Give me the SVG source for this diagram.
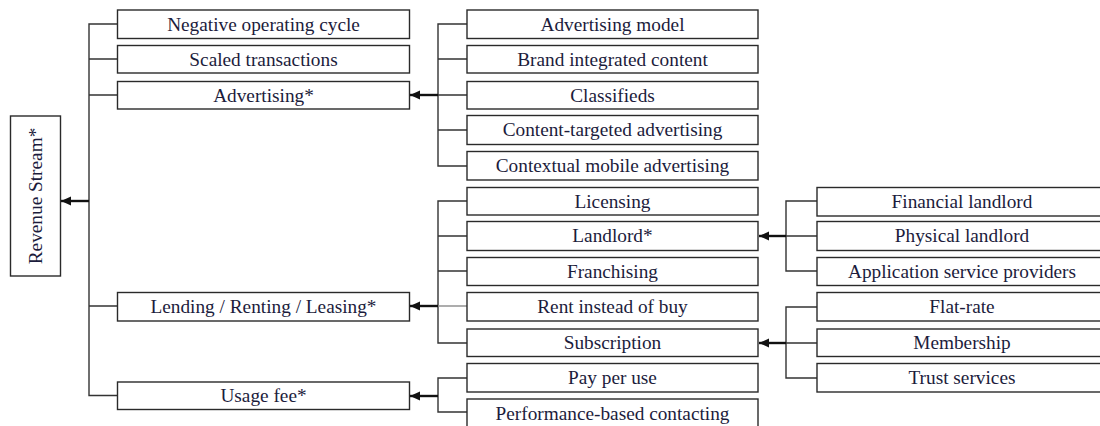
<svg xmlns="http://www.w3.org/2000/svg" width="1100" height="426" viewBox="0 0 1100 426">
  <style>
    .box { fill: #ffffff; stroke: #2a2a2a; stroke-width: 1.4; }
    .lbl { font-family: "Liberation Serif", "Times New Roman", serif; font-size: 19.3px; fill: #1c1c3c; text-anchor: middle; }
    .wire { fill: none; stroke: #333333; stroke-width: 1.4; }
    .arrow { fill: none; stroke: #111111; stroke-width: 2.4; marker-end: url(#head); }
  </style>
  <defs>
    <marker id="head" markerUnits="userSpaceOnUse" markerWidth="11" markerHeight="10" refX="10" refY="4.5" orient="auto">
      <path d="M0,0 L10,4.5 L0,9 Z" fill="#111111"/>
    </marker>
  </defs>
  <rect width="1100" height="426" fill="#ffffff"/>

  <!-- connectors -->
  <g id="connectors">
    <!-- root bracket -->
    <path class="wire" d="M117.5,24 H89 V395.5 H117.5 M89,59 H117.5 M89,95 H117.5 M89,306 H117.5"/>
    <path class="arrow" d="M89,201 H61"/>
    <!-- advertising bracket -->
    <path class="wire" d="M467,24 H438 V166 H467 M438,59 H467 M438,95 H467 M438,130 H467"/>
    <path class="arrow" d="M438,95 H410"/>
    <!-- lending bracket -->
    <path class="wire" d="M467,201 H438 V343 H467 M438,236 H467 M438,271 H467"/>
    <path class="wire" d="M438,306 H467" style="stroke:#8a8a8a"/>
    <path class="arrow" d="M438,306 H410"/>
    <!-- usage fee bracket -->
    <path class="wire" d="M467,378 H438 V412 H467"/>
    <path class="arrow" d="M438,396 H410"/>
    <!-- landlord bracket -->
    <path class="wire" d="M817,201 H786 V271 H817 M786,236 H817"/>
    <path class="arrow" d="M786,236 H759"/>
    <!-- subscription bracket -->
    <path class="wire" d="M817,307 H786 V378 H817 M786,343 H817"/>
    <path class="arrow" d="M786,343 H759"/>
  </g>

  <!-- root -->
  <g id="revenue-stream">
    <rect class="box" x="10.5" y="116" width="50" height="160"/>
    <text class="lbl" transform="translate(42,196) rotate(-90)" x="0" y="0">Revenue Stream*</text>
  </g>

  <!-- first level -->
  <g id="negative-operating-cycle">
    <rect class="box" x="117.5" y="10" width="292" height="28.5"/>
    <text class="lbl" x="263.5" y="30.7">Negative operating cycle</text>
  </g>
  <g id="scaled-transactions">
    <rect class="box" x="117.5" y="45.5" width="292" height="27.5"/>
    <text class="lbl" x="263.5" y="65.6">Scaled transactions</text>
  </g>
  <g id="advertising">
    <rect class="box" x="117.5" y="81.5" width="292" height="27.5"/>
    <text class="lbl" x="263.5" y="101.6">Advertising*</text>
  </g>
  <g id="lending">
    <rect class="box" x="117.5" y="292.5" width="292" height="28.5"/>
    <text class="lbl" x="263.5" y="313.2">Lending / Renting / Leasing*</text>
  </g>
  <g id="usage-fee">
    <rect class="box" x="117.5" y="382" width="292" height="27.5"/>
    <text class="lbl" x="263.5" y="402.1">Usage fee*</text>
  </g>

  <!-- second level -->
  <g id="advertising-model">
    <rect class="box" x="467" y="10" width="291" height="28.5"/>
    <text class="lbl" x="612.5" y="30.7">Advertising model</text>
  </g>
  <g id="brand-integrated-content">
    <rect class="box" x="467" y="45.5" width="291" height="27.5"/>
    <text class="lbl" x="612.5" y="65.6">Brand integrated content</text>
  </g>
  <g id="classifieds">
    <rect class="box" x="467" y="81.5" width="291" height="27.5"/>
    <text class="lbl" x="612.5" y="101.6">Classifieds</text>
  </g>
  <g id="content-targeted-advertising">
    <rect class="box" x="467" y="115.5" width="291" height="29"/>
    <text class="lbl" x="612.5" y="136.4">Content-targeted advertising</text>
  </g>
  <g id="contextual-mobile-advertising">
    <rect class="box" x="467" y="151.5" width="291" height="28.5"/>
    <text class="lbl" x="612.5" y="172.2">Contextual mobile advertising</text>
  </g>
  <g id="licensing">
    <rect class="box" x="467" y="187.5" width="291" height="27.5"/>
    <text class="lbl" x="612.5" y="207.6">Licensing</text>
  </g>
  <g id="landlord">
    <rect class="box" x="467" y="221.5" width="291" height="29"/>
    <text class="lbl" x="612.5" y="242.4">Landlord*</text>
  </g>
  <g id="franchising">
    <rect class="box" x="467" y="257.5" width="291" height="28"/>
    <text class="lbl" x="612.5" y="277.9">Franchising</text>
  </g>
  <g id="rent-instead-of-buy">
    <rect class="box" x="467" y="292.5" width="291" height="28.5"/>
    <text class="lbl" x="612.5" y="313.2">Rent instead of buy</text>
  </g>
  <g id="subscription">
    <rect class="box" x="467" y="329" width="291" height="27.5"/>
    <text class="lbl" x="612.5" y="349.1">Subscription</text>
  </g>
  <g id="pay-per-use">
    <rect class="box" x="467" y="363.5" width="291" height="28.5"/>
    <text class="lbl" x="612.5" y="384.2">Pay per use</text>
  </g>
  <g id="performance-based-contacting">
    <rect class="box" x="467" y="399" width="291" height="30"/>
    <text class="lbl" x="612.5" y="419.5">Performance-based contacting</text>
  </g>

  <!-- third level -->
  <g id="financial-landlord">
    <rect class="box" x="817" y="187.5" width="290" height="28.5"/>
    <text class="lbl" x="962" y="208.2">Financial landlord</text>
  </g>
  <g id="physical-landlord">
    <rect class="box" x="817" y="221.5" width="290" height="29"/>
    <text class="lbl" x="962" y="242.4">Physical landlord</text>
  </g>
  <g id="application-service-providers">
    <rect class="box" x="817" y="257.5" width="290" height="28"/>
    <text class="lbl" x="962" y="277.9">Application service providers</text>
  </g>
  <g id="flat-rate">
    <rect class="box" x="817" y="292.5" width="290" height="28.5"/>
    <text class="lbl" x="962" y="313.2">Flat-rate</text>
  </g>
  <g id="membership">
    <rect class="box" x="817" y="329" width="290" height="27.5"/>
    <text class="lbl" x="962" y="349.1">Membership</text>
  </g>
  <g id="trust-services">
    <rect class="box" x="817" y="363.5" width="290" height="28.5"/>
    <text class="lbl" x="962" y="384.2">Trust services</text>
  </g>
</svg>
